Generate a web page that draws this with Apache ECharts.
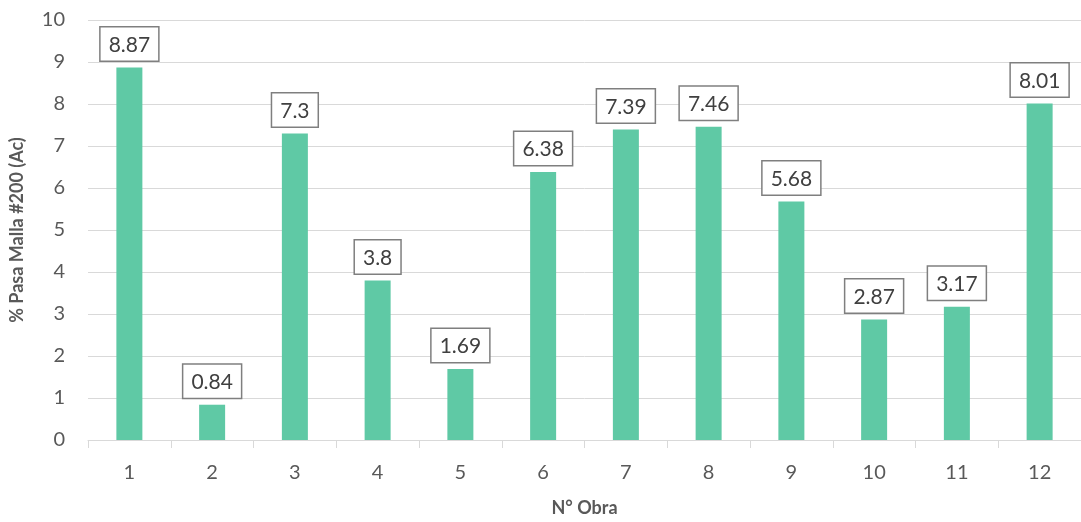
<!DOCTYPE html>
<html><head><meta charset="utf-8">
<script src="https://cdn.jsdelivr.net/npm/echarts@6/dist/echarts.min.js"></script>
<style>html,body{margin:0;padding:0;background:#fff}#c{width:1081px;height:522px}</style>
</head><body><div id="c"></div>
<script>
const categories = ['1','2','3','4','5','6','7','8','9','10','11','12'];
const values = [8.87, 0.84, 7.3, 3.8, 1.69, 6.38, 7.39, 7.46, 5.68, 2.87, 3.17, 8.01];
const xName = 'N° Obra';
const yName = '% Pasa Malla #200 (Ac)';
const FONT = 'Lato, "Open Sans", sans-serif';
const chart = echarts.init(document.getElementById('c'));
chart.setOption({
  animation: false,
  grid: {left: 88, top: 20, width: 1000, height: 423},
  xAxis: {
    type: 'category', data: categories,
    name: xName, nameLocation: 'middle', nameGap: 59,
    nameTextStyle: {fontFamily: FONT, fontSize: 18, fontWeight: 'bold', color: '#595959'},
    axisLine: {lineStyle: {color: '#d9d9d9'}},
    axisTick: {show: true, length: 8, lineStyle: {color: '#d9d9d9'}},
    axisLabel: {fontFamily: FONT, fontSize: 20, color: '#595959', margin: 23}
  },
  yAxis: {
    type: 'value', min: 0, max: 10, interval: 1,
    name: yName, nameLocation: 'middle', nameGap: 62, nameRotate: 90,
    nameTextStyle: {fontFamily: FONT, fontSize: 18, fontWeight: 'bold', color: '#595959'},
    axisLine: {show: false}, axisTick: {show: false},
    axisLabel: {fontFamily: FONT, fontSize: 20, color: '#595959', margin: 23},
    splitLine: {lineStyle: {color: '#d9d9d9'}}
  },
  series: [{
    type: 'bar', data: values, barWidth: 26,
    itemStyle: {color: '#5fc9a5'},
    label: {
      show: true, position: 'top', distance: 7,
      fontFamily: FONT, fontSize: 21, color: '#404040',
      backgroundColor: '#fff', borderColor: '#7f7f7f', borderWidth: 1.5,
      padding: [7, 8, 5, 8]
    }
  }]
});
</script></body></html>
